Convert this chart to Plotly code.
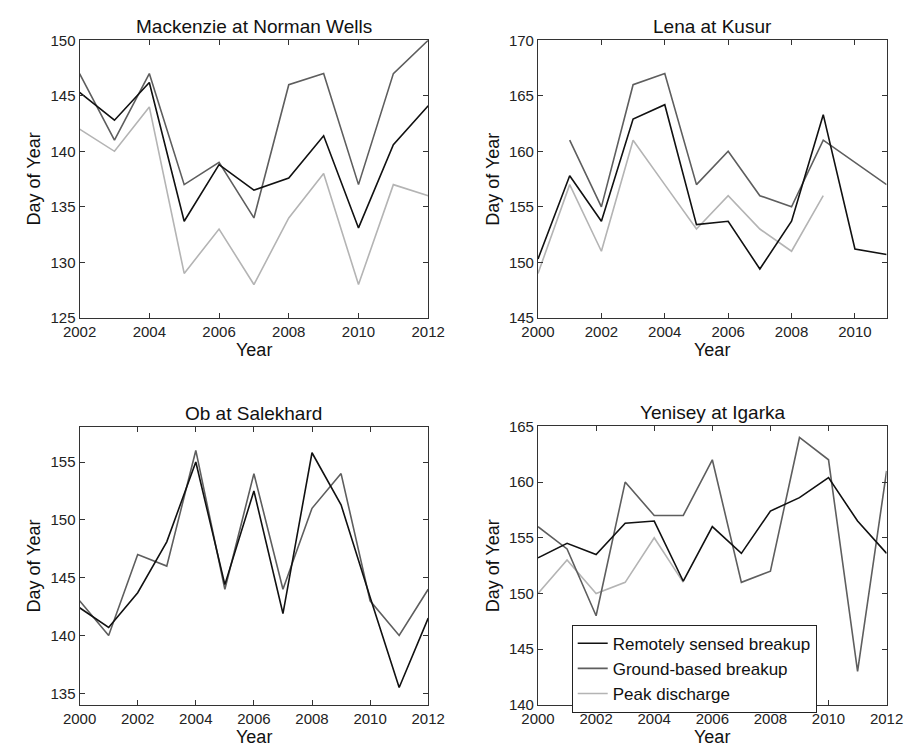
import plotly.graph_objects as go

# ---------------- data ----------------
mac_years = [2002, 2003, 2004, 2005, 2006, 2007, 2008, 2009, 2010, 2011, 2012]
mac_remote = [145.3, 142.8, 146.2, 133.7, 138.8, 136.5, 137.6, 141.4, 133.1, 140.6, 144.1]
mac_ground = [147, 141, 147, 137, 139, 134, 146, 147, 137, 147, 150]
mac_peak = [142, 140, 144, 129, 133, 128, 134, 138, 128, 137, 136]

lena_years = [2000, 2001, 2002, 2003, 2004, 2005, 2006, 2007, 2008, 2009, 2010, 2011]
lena_remote = [150.3, 157.8, 153.7, 162.9, 164.2, 153.4, 153.7, 149.4, 153.7, 163.3, 151.2, 150.7]
lena_ground = [None, 161, 155, 166, 167, 157, 160, 156, 155, 161, 159, 157]
lena_peak = [149, 157, 151, 161, 157, 153, 156, 153, 151, 156, None, None]

ob_years = [2000, 2001, 2002, 2003, 2004, 2005, 2006, 2007, 2008, 2009, 2010, 2011, 2012]
ob_remote = [142.4, 140.7, 143.7, 148.1, 155.0, 144.4, 152.5, 141.9, 155.8, 151.3, 143.3, 135.5, 141.5]
ob_ground = [143, 140, 147, 146, 156, 144, 154, 144, 151, 154, 143, 140, 144]

yen_years = [2000, 2001, 2002, 2003, 2004, 2005, 2006, 2007, 2008, 2009, 2010, 2011, 2012]
yen_remote = [153.2, 154.5, 153.5, 156.3, 156.5, 151.1, 156.0, 153.6, 157.4, 158.6, 160.4, 156.5, 153.6]
yen_ground = [156, 154, 148, 160, 157, 157, 162, 151, 152, 164, 162, 143, 161]
yen_peak = [150, 153, 150, 151, 155, 151, None, None, None, None, None, None, None]

titles = ["Mackenzie at Norman Wells", "Lena at Kusur", "Ob at Salekhard", "Yenisey at Igarka"]
series_names = ["Remotely sensed breakup", "Ground-based breakup", "Peak discharge"]

# ---------------- style ----------------
C_REMOTE = "#111111"
C_GROUND = "#5e5e5e"
C_PEAK = "#b4b4b4"
FONT = "Liberation Sans, Arial, sans-serif"
W, H = 920, 752

# plot areas in pixels (left, right, top, bottom)
areas = [(65, 427, 32, 316), (541, 903, 32, 316), (65, 427, 428, 712), (541, 903, 427, 712)]

fig = go.Figure()

panels = [
    (mac_years, [mac_remote, mac_ground, mac_peak], [2002, 2012], [125, 150], 5),
    (lena_years, [lena_remote, lena_ground, lena_peak], [2000, 2011], [145, 170], 5),
    (ob_years, [ob_remote, ob_ground, None], [2000, 2012], [134, 158], 5),
    (yen_years, [yen_remote, yen_ground, yen_peak], [2000, 2012], [140, 165], 5),
]
colors = [C_REMOTE, C_GROUND, C_PEAK]
order = [2, 1, 0]  # peak first, remote on top

for i, (yrs, sers, xr, yr, dt) in enumerate(panels):
    xa = "x" if i == 0 else f"x{i+1}"
    ya = "y" if i == 0 else f"y{i+1}"
    for k in order:
        s = sers[k]
        if s is None:
            continue
        fig.add_trace(go.Scatter(
            x=yrs, y=s, mode="lines", name=series_names[k],
            line=dict(color=colors[k], width=1.6),
            xaxis=xa, yaxis=ya, showlegend=False, connectgaps=False,
        ))
    l, r, t, b = areas[i]
    axis_common = dict(showgrid=False, zeroline=False, showline=True, linecolor="#333333",
                       linewidth=1.2, mirror="ticks", ticks="inside", ticklen=5,
                       tickcolor="#333333", tickfont=dict(family=FONT, size=15, color="#222222"))
    xkey = "xaxis" if i == 0 else f"xaxis{i+1}"
    ykey = "yaxis" if i == 0 else f"yaxis{i+1}"
    fig.update_layout(**{
        xkey: dict(domain=[l / W, r / W], range=xr, dtick=2, tick0=2000,
                   anchor=ya, ticklabelstandoff=0, **axis_common),
        ykey: dict(domain=[1 - b / H, 1 - t / H], range=yr, dtick=dt,
                   anchor=xa, **axis_common),
    })
    fig.add_annotation(x=(l + r) / 2 / W, y=1 - (t - 14) / H, xref="paper", yref="paper",
                       text=titles[i], showarrow=False, xanchor="center", yanchor="middle",
                       font=dict(family=FONT, size=19, color="#111111"))
    fig.add_annotation(x=(l + r) / 2 / W, y=1 - (b + 33) / H, xref="paper", yref="paper",
                       text="Year", showarrow=False, xanchor="center", yanchor="middle",
                       font=dict(family=FONT, size=18, color="#111111"))
    fig.add_annotation(x=(l - 47) / W, y=1 - (t + b) / 2 / H, xref="paper", yref="paper",
                       text="Day of Year", showarrow=False, xanchor="center", yanchor="middle",
                       textangle=-90, font=dict(family=FONT, size=18, color="#111111"))

# legend entries on panel 4
for k in range(3):
    fig.add_trace(go.Scatter(x=[None], y=[None], mode="lines", name=series_names[k],
                             line=dict(color=colors[k], width=1.6),
                             xaxis="x4", yaxis="y4", showlegend=True))

fig.update_layout(
    width=W, height=H,
    margin=dict(l=0, r=0, t=0, b=0),
    paper_bgcolor="white", plot_bgcolor="white",
    font=dict(family=FONT, color="#111111"),
    legend=dict(x=576 / W, y=1 - 630 / H, xanchor="left", yanchor="top",
                bordercolor="#222222", borderwidth=1, bgcolor="white",
                font=dict(family=FONT, size=17, color="#111111"),
                tracegroupgap=0, itemwidth=30, traceorder="normal"),
)

fig.write_html("out.html")
